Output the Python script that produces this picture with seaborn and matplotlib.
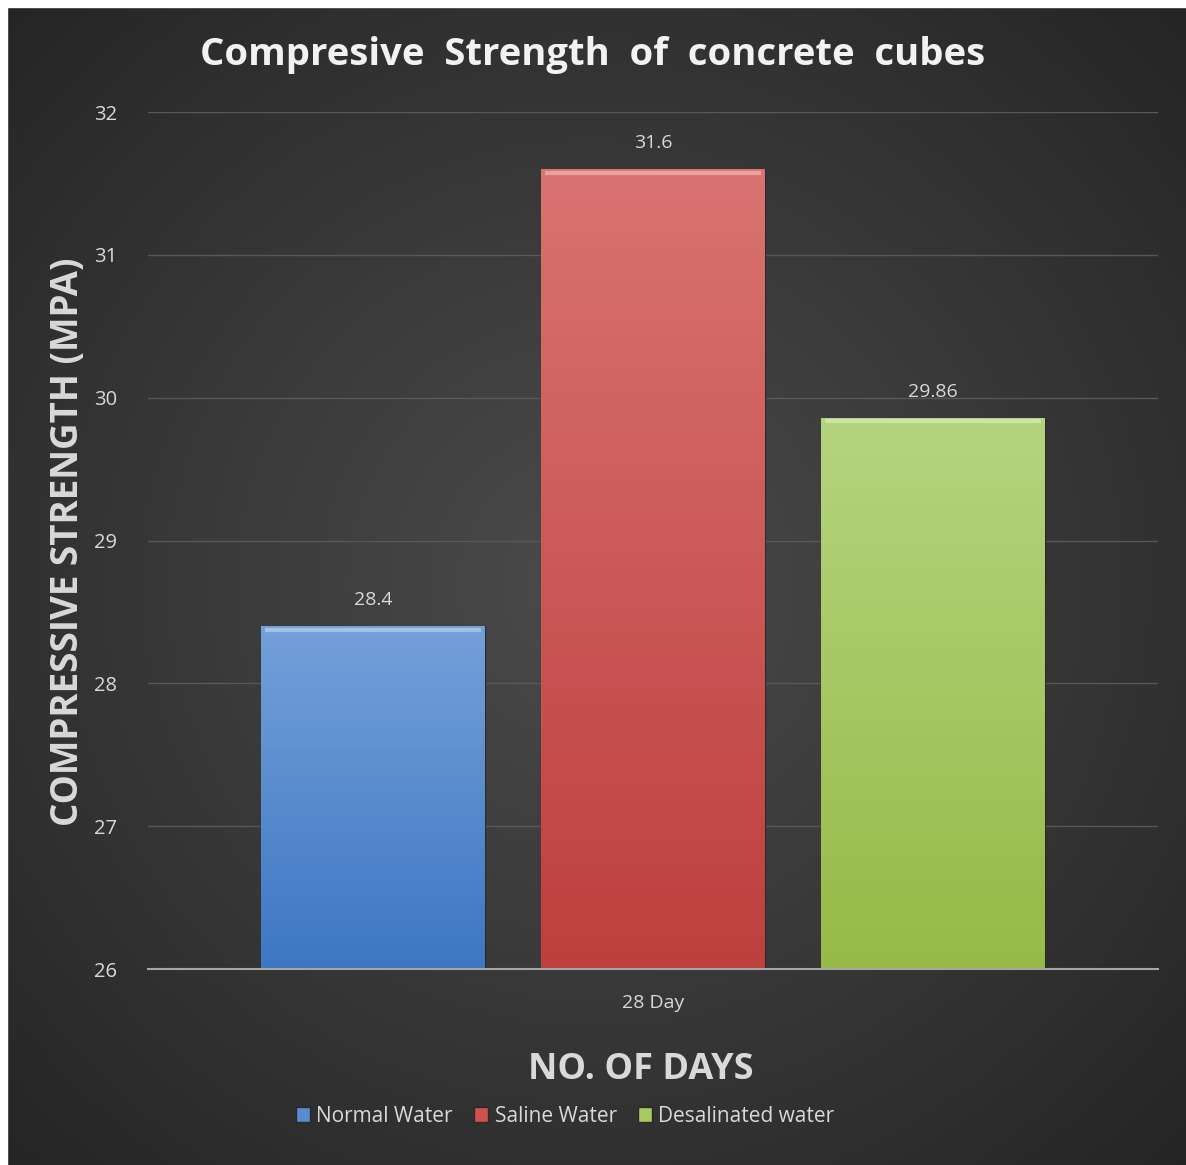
import numpy as np
import pandas as pd
import matplotlib
matplotlib.use("Agg")
import matplotlib.pyplot as plt
from matplotlib.colors import LinearSegmentedColormap
from matplotlib.patches import Patch
import seaborn as sns

# ── data ──────────────────────────────────────────────────────────────────────
days = ["28 Day"]
water = ["Normal Water", "Saline Water", "Desalinated water"]
strength = [28.4, 31.6, 29.86]
yticks = [26, 27, 28, 29, 30, 31, 32]

TOP_COLORS = ["#74a0d9", "#d97371", "#b5d47e"]
BOT_COLORS = ["#3d77c3", "#be3f3e", "#97ba47"]
MID_COLORS = ["#5a8bd0", "#d05250", "#a8ca5f"]
TXT = "#d9d9d9"

sns.set_theme(style="dark")
plt.rcParams["font.family"] = ["Open Sans", "DejaVu Sans"]

df = pd.DataFrame({"day": days * len(water), "water": water, "strength": strength})

fig = plt.figure(figsize=(11.86, 11.65), dpi=100, facecolor="#262626")
fig.patch.set_linewidth(0)

# background: radial gradient
bg = fig.add_axes([0, 0, 1, 1], zorder=-10)
yy, xx = np.mgrid[-1:1:400j, -1:1:400j]
r = np.sqrt(xx**2 + yy**2) / np.sqrt(2)
bg.imshow(r, cmap=LinearSegmentedColormap.from_list("bg", ["#4b4b4b", "#383838", "#242424"]),
          extent=[-0.01, 1.01, -0.01, 1.01], aspect="auto", vmin=0, vmax=1)
bg.set_xlim(0, 1)
bg.set_ylim(0, 1)
bg.axis("off")
# white strips top and left
fig.patches.append(plt.Rectangle((0, 1 - 7 / 1165), 1, 7 / 1165, transform=fig.transFigure,
                                 color="white", zorder=10))
fig.patches.append(plt.Rectangle((0, 0), 7 / 1186, 1, transform=fig.transFigure,
                                 color="white", zorder=10))

ax = fig.add_axes([148 / 1186, 196 / 1165, 1010 / 1186, 857 / 1165])
ax.set_facecolor("none")
sns.barplot(data=df, x="day", y="strength", hue="water", hue_order=water,
            palette=MID_COLORS, width=0.858, gap=0.2, ax=ax, legend=False, zorder=3)

# gradient fill inside each bar
for p, ct, cb, v in zip(ax.patches, TOP_COLORS, BOT_COLORS, strength):
    x0, w = p.get_x(), p.get_width()
    cmap = LinearSegmentedColormap.from_list("g", [cb, ct])
    im = ax.imshow(np.linspace(0, 1, 100).reshape(-1, 1), cmap=cmap, origin="lower",
                   extent=[x0, x0 + w, 26, v], aspect="auto", zorder=4)
    im.set_clip_path(p)
    p.set_edgecolor("#2a2a2a")
    p.set_linewidth(0.8)
    ax.plot([x0 + 0.004, x0 + w - 0.004], [v - 0.025, v - 0.025], color="white",
            alpha=0.35, lw=3, zorder=5, solid_capstyle="butt")
    ax.text(x0 + w / 2, v + 0.12, f"{v:g}", ha="center", va="bottom",
            color=TXT, fontsize=14, zorder=6)

ax.set_xlim(-0.516, 0.516)
ax.set_ylim(26, 32)
ax.set_yticks(yticks)

ax.grid(axis="y", color="#585858", lw=1, zorder=0)
ax.grid(axis="x", visible=False)
for s in ["top", "right", "left"]:
    ax.spines[s].set_visible(False)
ax.spines["bottom"].set_color("#a6a6a6")
ax.spines["bottom"].set_linewidth(1.5)
ax.spines["bottom"].set_zorder(7)
ax.tick_params(axis="y", colors=TXT, labelsize=14.5, length=0, pad=22)
ax.tick_params(axis="x", colors=TXT, labelsize=14, length=0, pad=18)

ax.set_xlabel("NO. OF DAYS", color=TXT, fontsize=26, fontweight="bold")
ax.xaxis.set_label_coords((641 - 148) / 1010, -(1070 - 969) / 857)
ax.xaxis.label.set_va("center")
ax.set_ylabel("COMPRESSIVE STRENGTH (MPA)", color=TXT, fontsize=26.5, fontweight="bold")
ax.yaxis.set_label_coords(-(148 - 68) / 1010, (969 - 542) / 857)
ax.yaxis.label.set_va("center")

fig.text(0.5, 1 - 55 / 1165, "Compresive  Strength  of  concrete  cubes", ha="center",
         va="center", color="#f2f2f2", fontsize=27.5, fontweight="bold")

handles = [Patch(facecolor=c, edgecolor="#2a2a2a") for c in MID_COLORS]
leg = fig.legend(handles, water, loc="center", bbox_to_anchor=(565 / 1186, 1 - 1116 / 1165),
                 ncol=3, frameon=False, fontsize=15, handlelength=0.7, handleheight=0.7,
                 handletextpad=0.3, columnspacing=1.0)
for t in leg.get_texts():
    t.set_color(TXT)

fig.savefig("out.png", dpi=100, facecolor=fig.get_facecolor(), edgecolor="none")
